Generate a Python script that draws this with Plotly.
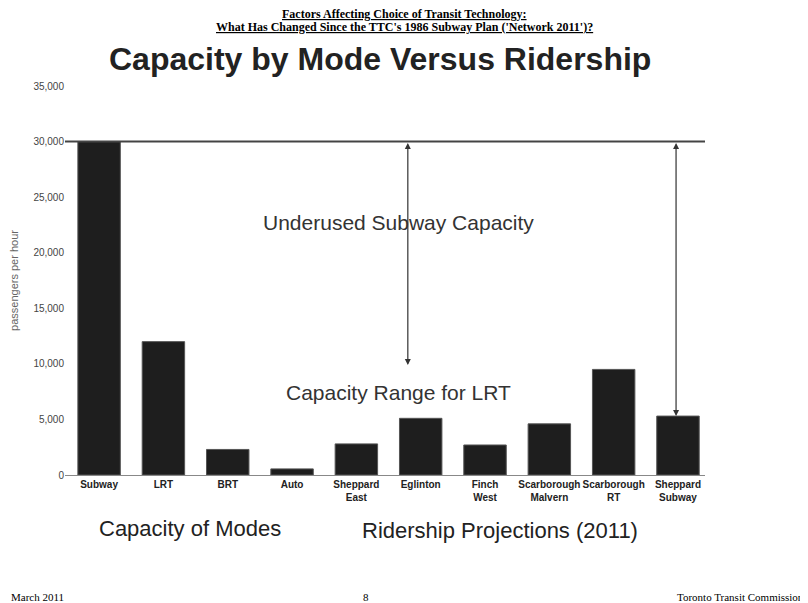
import plotly.graph_objects as go

modes = ["Subway", "LRT", "BRT", "Auto", "Sheppard<br>East", "Eglinton", "Finch<br>West",
         "Scarborough<br>Malvern", "Scarborough<br>RT", "Sheppard<br>Subway"]
riders = [30000, 12000, 2300, 550, 2800, 5100, 2700, 4600, 9500, 5300]
yticks = [0, 5000, 10000, 15000, 20000, 25000, 30000, 35000]

# the page body has an 8px margin, so work in window pixels minus 8
OFF = 8
W, H = 800, 595
L, R, T, B = 65 - OFF, 103, 86 - OFF, 128

fig = go.Figure(go.Bar(x=list(range(len(modes))), y=riders, width=0.66,
                       marker=dict(color="#1e1e1e", line=dict(color="#555", width=1))))

fig.update_layout(
    width=W, height=H, plot_bgcolor="white", paper_bgcolor="white",
    margin=dict(l=L, r=R, t=T, b=B, autoexpand=False), showlegend=False,
    font=dict(family="Liberation Sans, Arial", color="#333"),
    xaxis=dict(range=[-0.53, 9.42], tickmode="array", tickvals=list(range(len(modes))),
               ticktext=["<b>" + m + "</b>" for m in modes], tickangle=0,
               tickfont=dict(size=10, color="#222"),
               showline=True, linecolor="#888", ticks="", showgrid=False),
    yaxis=dict(range=[0, 35000], tickvals=yticks, tickformat=",", tickfont=dict(size=10, color="#444"),
               showgrid=False, showline=False, zeroline=False,
               title=dict(text="passengers per hour", font=dict(size=11, color="#666"), standoff=28)),
)
fig.add_shape(type="line", xref="paper", x0=0, x1=1.0, y0=30000, y1=30000,
              line=dict(color="#444", width=2))
for xv, yb in [(4.8, 9900), (8.97, 5300)]:
    fig.add_annotation(x=xv, y=yb, ax=xv, ay=30000, axref="x", ayref="y", showarrow=True,
                       arrowhead=2, arrowside="end+start", arrowwidth=1.2, arrowcolor="#333", text="")
fig.add_annotation(x=4.65, y=22700, text="Underused Subway Capacity", showarrow=False,
                   font=dict(size=21, color="#333"))
fig.add_annotation(x=4.65, y=7400, text="Capacity Range for LRT", showarrow=False,
                   font=dict(size=21, color="#333"))


def page(px, py, text, size, anchor="center", family=None, color="#222"):
    px, py = px - OFF, py - OFF
    f = dict(size=size, color=color)
    if family:
        f["family"] = family
    fig.add_annotation(x=(px - L) / (W - L - R), y=1 - (py - T) / (H - T - B),
                       xref="paper", yref="paper", xanchor=anchor, yanchor="middle",
                       text=text, showarrow=False, font=f)


page(380, 59, "<b>Capacity by Mode Versus Ridership</b>", 32)
page(190, 528, "Capacity of Modes", 22)
page(500, 530, "Ridership Projections (2011)", 22)
page(404, 14, "<b><u>Factors Affecting Choice of Transit Technology:</u></b>", 12,
     family="Liberation Serif", color="black")
page(404, 27, "<b><u>What Has Changed Since the TTC's 1986 Subway Plan ('Network 2011')?</u></b>", 12,
     family="Liberation Serif", color="black")
page(9, 597, "March 2011", 11, "left", "Liberation Serif", "black")
page(366, 597, "8", 11, "center", "Liberation Serif", "black")
page(806, 597, "Toronto Transit Commission", 11, "right", "Liberation Serif", "black")

fig.write_html("out.html")
